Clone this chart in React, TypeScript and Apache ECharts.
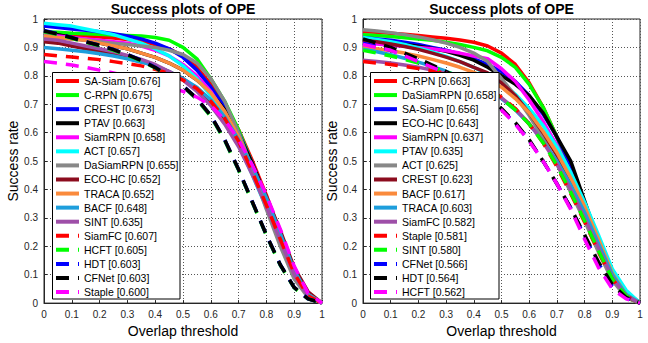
import React, { useEffect, useRef } from "react";
import * as echarts from "echarts";

const thresholds = [0, 0.05, 0.1, 0.15, 0.2, 0.25, 0.3, 0.35, 0.4, 0.45, 0.5, 0.55, 0.6, 0.65, 0.7, 0.75, 0.8, 0.85, 0.9, 0.95, 1];
const xTicks = ["0", "0.1", "0.2", "0.3", "0.4", "0.5", "0.6", "0.7", "0.8", "0.9", "1"];

// Left plot
const leftNames = ["SA-Siam", "C-RPN", "CREST", "PTAV", "SiamRPN", "ACT", "DaSiamRPN", "ECO-HC", "TRACA", "BACF", "SINT", "SiamFC", "HCFT", "HDT", "CFNet", "Staple"];
const leftScores = ["0.676", "0.675", "0.673", "0.663", "0.658", "0.657", "0.655", "0.652", "0.652", "0.648", "0.635", "0.607", "0.605", "0.603", "0.603", "0.600"];
const L_SASiam = [0.95, 0.95, 0.945, 0.94, 0.937, 0.933, 0.928, 0.92, 0.91, 0.895, 0.87, 0.83, 0.77, 0.70, 0.61, 0.50, 0.38, 0.245, 0.115, 0.03, 0];
const L_CRPN = [0.955, 0.953, 0.95, 0.948, 0.946, 0.944, 0.942, 0.94, 0.935, 0.925, 0.9, 0.86, 0.79, 0.71, 0.61, 0.49, 0.36, 0.225, 0.1, 0.025, 0];
const L_CREST = [0.975, 0.97, 0.965, 0.96, 0.955, 0.948, 0.94, 0.93, 0.915, 0.895, 0.865, 0.82, 0.76, 0.69, 0.60, 0.49, 0.37, 0.24, 0.11, 0.03, 0];
const L_PTAV = [0.95, 0.945, 0.935, 0.925, 0.915, 0.905, 0.895, 0.88, 0.865, 0.845, 0.82, 0.785, 0.74, 0.68, 0.595, 0.49, 0.37, 0.24, 0.11, 0.03, 0];
const L_SiamRPN = [0.945, 0.94, 0.935, 0.93, 0.925, 0.92, 0.915, 0.905, 0.89, 0.87, 0.84, 0.8, 0.745, 0.67, 0.575, 0.465, 0.345, 0.22, 0.1, 0.025, 0];
const L_ACT = [0.985, 0.98, 0.975, 0.965, 0.955, 0.945, 0.93, 0.915, 0.895, 0.87, 0.835, 0.79, 0.73, 0.655, 0.56, 0.45, 0.335, 0.215, 0.1, 0.025, 0];
const L_DaSiamRPN = [0.94, 0.935, 0.93, 0.925, 0.92, 0.915, 0.91, 0.905, 0.9, 0.89, 0.875, 0.845, 0.79, 0.71, 0.6, 0.47, 0.33, 0.2, 0.085, 0.02, 0];
const L_ECOHC = [0.92, 0.915, 0.905, 0.895, 0.885, 0.875, 0.865, 0.85, 0.835, 0.815, 0.79, 0.755, 0.71, 0.65, 0.575, 0.48, 0.375, 0.255, 0.125, 0.04, 0];
const L_TRACA = [0.94, 0.935, 0.93, 0.925, 0.915, 0.905, 0.895, 0.88, 0.865, 0.845, 0.82, 0.785, 0.74, 0.675, 0.585, 0.475, 0.355, 0.23, 0.105, 0.03, 0];
const L_BACF = [0.9, 0.895, 0.89, 0.885, 0.878, 0.87, 0.86, 0.848, 0.835, 0.815, 0.79, 0.76, 0.715, 0.655, 0.575, 0.48, 0.37, 0.245, 0.115, 0.03, 0];
const L_SINT = [0.93, 0.925, 0.915, 0.905, 0.895, 0.885, 0.872, 0.858, 0.84, 0.815, 0.785, 0.745, 0.695, 0.63, 0.55, 0.45, 0.34, 0.22, 0.1, 0.025, 0];
const L_SiamFC = [0.875, 0.87, 0.866, 0.862, 0.857, 0.85, 0.843, 0.835, 0.823, 0.808, 0.785, 0.755, 0.71, 0.65, 0.57, 0.46, 0.345, 0.225, 0.105, 0.025, 0];
const L_HCFT = [0.955, 0.945, 0.932, 0.918, 0.905, 0.89, 0.872, 0.852, 0.828, 0.798, 0.762, 0.717, 0.657, 0.572, 0.468, 0.353, 0.238, 0.133, 0.054, 0.015, 0];
const L_HDT = [0.96, 0.948, 0.935, 0.92, 0.908, 0.893, 0.875, 0.855, 0.83, 0.8, 0.765, 0.72, 0.66, 0.575, 0.47, 0.355, 0.24, 0.135, 0.055, 0.015, 0];
const L_CFNet = [0.958, 0.947, 0.934, 0.92, 0.907, 0.892, 0.874, 0.854, 0.829, 0.8, 0.764, 0.72, 0.66, 0.575, 0.47, 0.355, 0.24, 0.135, 0.055, 0.015, 0];
const L_Staple = [0.85, 0.845, 0.838, 0.83, 0.82, 0.81, 0.798, 0.785, 0.77, 0.76, 0.745, 0.725, 0.695, 0.645, 0.575, 0.485, 0.38, 0.26, 0.13, 0.035, 0];
const leftCurves = [L_SASiam, L_CRPN, L_CREST, L_PTAV, L_SiamRPN, L_ACT, L_DaSiamRPN, L_ECOHC, L_TRACA, L_BACF, L_SINT, L_SiamFC, L_HCFT, L_HDT, L_CFNet, L_Staple];

// Right plot
const rightNames = ["C-RPN", "DaSiamRPN", "SA-Siam", "ECO-HC", "SiamRPN", "PTAV", "ACT", "CREST", "BACF", "TRACA", "SiamFC", "Staple", "SINT", "CFNet", "HDT", "HCFT"];
const rightScores = ["0.663", "0.658", "0.656", "0.643", "0.637", "0.635", "0.625", "0.623", "0.617", "0.603", "0.582", "0.581", "0.580", "0.566", "0.564", "0.562"];
const R_CRPN = [0.955, 0.953, 0.95, 0.946, 0.942, 0.937, 0.932, 0.926, 0.918, 0.905, 0.88, 0.84, 0.775, 0.69, 0.585, 0.455, 0.33, 0.205, 0.09, 0.02, 0];
const R_DaSiamRPN = [0.945, 0.942, 0.938, 0.934, 0.93, 0.925, 0.918, 0.91, 0.9, 0.888, 0.865, 0.83, 0.77, 0.69, 0.585, 0.465, 0.34, 0.21, 0.09, 0.02, 0];
const R_SASiam = [0.935, 0.93, 0.925, 0.918, 0.91, 0.9, 0.89, 0.877, 0.86, 0.84, 0.815, 0.78, 0.73, 0.665, 0.585, 0.485, 0.355, 0.225, 0.1, 0.03, 0];
const R_ECOHC = [0.925, 0.92, 0.915, 0.91, 0.904, 0.896, 0.886, 0.872, 0.855, 0.83, 0.8, 0.77, 0.73, 0.67, 0.585, 0.5, 0.36, 0.22, 0.115, 0.04, 0];
const R_SiamRPN = [0.915, 0.912, 0.908, 0.904, 0.9, 0.895, 0.888, 0.88, 0.87, 0.86, 0.825, 0.78, 0.715, 0.64, 0.555, 0.455, 0.34, 0.22, 0.1, 0.025, 0];
const R_PTAV = [0.935, 0.928, 0.92, 0.91, 0.898, 0.884, 0.868, 0.85, 0.83, 0.805, 0.775, 0.735, 0.685, 0.625, 0.55, 0.46, 0.355, 0.24, 0.12, 0.045, 0];
const R_ACT = [0.962, 0.958, 0.952, 0.945, 0.937, 0.927, 0.915, 0.9, 0.88, 0.85, 0.79, 0.73, 0.66, 0.58, 0.49, 0.39, 0.29, 0.18, 0.08, 0.02, 0];
const R_CREST = [0.925, 0.92, 0.912, 0.903, 0.893, 0.88, 0.866, 0.85, 0.83, 0.81, 0.775, 0.73, 0.67, 0.6, 0.52, 0.43, 0.33, 0.215, 0.1, 0.025, 0];
const R_BACF = [0.9, 0.895, 0.888, 0.88, 0.87, 0.858, 0.845, 0.83, 0.812, 0.79, 0.76, 0.72, 0.67, 0.605, 0.53, 0.44, 0.34, 0.225, 0.105, 0.03, 0];
const R_TRACA = [0.894, 0.885, 0.874, 0.862, 0.848, 0.833, 0.816, 0.797, 0.775, 0.75, 0.72, 0.68, 0.63, 0.57, 0.5, 0.415, 0.32, 0.21, 0.1, 0.03, 0];
const R_SiamFC = [0.855, 0.85, 0.845, 0.838, 0.83, 0.82, 0.808, 0.793, 0.775, 0.752, 0.722, 0.683, 0.632, 0.567, 0.49, 0.4, 0.3, 0.195, 0.09, 0.025, 0];
const R_Staple = [0.85, 0.845, 0.84, 0.833, 0.826, 0.818, 0.808, 0.795, 0.778, 0.755, 0.725, 0.685, 0.63, 0.565, 0.48, 0.385, 0.285, 0.18, 0.085, 0.025, 0];
const R_SINT = [0.89, 0.88, 0.87, 0.858, 0.845, 0.83, 0.815, 0.797, 0.775, 0.75, 0.72, 0.68, 0.63, 0.565, 0.485, 0.39, 0.29, 0.185, 0.085, 0.025, 0];
const R_CFNet = [0.915, 0.903, 0.89, 0.872, 0.852, 0.832, 0.81, 0.786, 0.757, 0.722, 0.682, 0.632, 0.572, 0.5, 0.42, 0.335, 0.235, 0.14, 0.06, 0.018, 0];
const R_HDT = [0.93, 0.915, 0.9, 0.88, 0.86, 0.838, 0.815, 0.79, 0.76, 0.725, 0.685, 0.635, 0.575, 0.5, 0.42, 0.335, 0.24, 0.145, 0.065, 0.02, 0];
const R_HCFT = [0.91, 0.9, 0.89, 0.87, 0.85, 0.83, 0.81, 0.785, 0.755, 0.72, 0.68, 0.63, 0.57, 0.5, 0.42, 0.33, 0.225, 0.125, 0.05, 0.015, 0];
const rightCurves = [R_CRPN, R_DaSiamRPN, R_SASiam, R_ECOHC, R_SiamRPN, R_PTAV, R_ACT, R_CREST, R_BACF, R_TRACA, R_SiamFC, R_Staple, R_SINT, R_CFNet, R_HDT, R_HCFT];

// Styles by rank (same in both panels)
const rankStyles = [
  { color: "#ff0000", dash: false },
  { color: "#00ff00", dash: false },
  { color: "#0000ff", dash: false },
  { color: "#000000", dash: false },
  { color: "#ff00ff", dash: false },
  { color: "#00ffff", dash: false },
  { color: "#888888", dash: false },
  { color: "#8c0c1e", dash: false },
  { color: "#fa8a3c", dash: false },
  { color: "#1e9edc", dash: false },
  { color: "#9e4fa8", dash: false },
  { color: "#ff0000", dash: true },
  { color: "#00ff00", dash: true },
  { color: "#0000ff", dash: true },
  { color: "#000000", dash: true },
  { color: "#ff00ff", dash: true },
];

const FONT = "'Liberation Sans', Arial, Helvetica, sans-serif";

function buildSeries(curves: number[][], names: string[], scores: string[], gi: number) {
  return curves.map((vals, i) => {
    const st = rankStyles[i];
    return {
      type: "line",
      name: `${names[i]} [${scores[i]}]`,
      xAxisIndex: gi,
      yAxisIndex: gi,
      data: thresholds.map((t, k) => [t, vals[k]]),
      symbol: "none",
      silent: true,
      color: st.color,
      itemStyle: { color: st.color },
      lineStyle: { color: st.color, width: 3.5, type: st.dash ? [13, 9] : "solid" },
      z: 3,
    };
  });
}

function axisCommon(gi: number) {
  return {
    gridIndex: gi,
    type: "value",
    min: 0,
    max: 1,
    interval: 0.1,
    axisLine: { show: true, lineStyle: { color: "#262626", width: 1 } },
    axisTick: { show: true, inside: true, length: 3, lineStyle: { color: "#262626" } },
    axisLabel: { fontSize: 10, color: "#262626", fontFamily: FONT, margin: 6 },
    splitLine: { show: true, lineStyle: { color: "#555", type: [1, 2], width: 1 } },
    nameLocation: "middle",
    nameTextStyle: { fontSize: 14, color: "#000", fontFamily: FONT },
  };
}

const grids = [
  { left: 44, top: 19, width: 278, height: 287 },
  { left: 363, top: 19, width: 277, height: 287 },
];

export default function App() {
  const ref = useRef<HTMLDivElement>(null);
  useEffect(() => {
    if (!ref.current) return;
    const chart = echarts.init(ref.current, undefined, { renderer: "svg" });
    const leftLabels = leftNames.map((n, i) => `${n} [${leftScores[i]}]`);
    const rightLabels = rightNames.map((n, i) => `${n} [${rightScores[i]}]`);
    const legendCommon = {
      orient: "vertical",
      padding: 0,
      itemWidth: 23,
      itemHeight: 14,
      itemGap: 0.07,
      selectedMode: false,
      lineStyle: { width: 4 },
      itemStyle: { opacity: 0 },
      textStyle: { fontSize: 10.5, color: "#000", fontFamily: FONT, lineHeight: 14 },
      z: 20,
    };
    const option: any = {
      animation: false,
      backgroundColor: "#fff",
      textStyle: { fontFamily: FONT },
      title: [
        { text: "Success plots of OPE", left: 183, top: 2, textAlign: "center", padding: 0, textStyle: { fontSize: 14, fontWeight: "bold", color: "#000", fontFamily: FONT } },
        { text: "Success plots of OPE", left: 501.5, top: 2, textAlign: "center", padding: 0, textStyle: { fontSize: 14, fontWeight: "bold", color: "#000", fontFamily: FONT } },
      ],
      grid: grids.map((g) => ({ ...g, show: true, borderColor: "#262626", borderWidth: 1, backgroundColor: "transparent" })),
      xAxis: [0, 1].map((gi) => ({
        ...axisCommon(gi),
        name: "Overlap threshold",
        nameGap: 18,
        axisLabel: { ...axisCommon(gi).axisLabel, formatter: (v: number) => xTicks[Math.round(v * 10)] },
      })),
      yAxis: [0, 1].map((gi) => ({
        ...axisCommon(gi),
        name: "Success rate",
        nameGap: 13,
        axisLabel: { ...axisCommon(gi).axisLabel, formatter: (v: number) => xTicks[Math.round(v * 10)] },
      })),
      legend: [
        { ...legendCommon, left: 54, top: 74, data: leftLabels },
        { ...legendCommon, left: 372, top: 74, data: rightLabels },
      ],
      graphic: [
        { type: "rect", z: 10, shape: { x: 52.5, y: 72.5, width: 127.5, height: 226.5 }, style: { fill: "#fff", stroke: "#000", lineWidth: 1 } },
        { type: "rect", z: 10, shape: { x: 370.5, y: 72.5, width: 128.5, height: 226.5 }, style: { fill: "#fff", stroke: "#000", lineWidth: 1 } },
      ],
      series: [
        ...buildSeries(leftCurves, leftNames, leftScores, 0),
        ...buildSeries(rightCurves, rightNames, rightScores, 1),
      ],
    };
    chart.setOption(option);
    return () => chart.dispose();
  }, []);
  return <div ref={ref} style={{ width: 648, height: 343, position: "absolute", left: 0, top: 0 }} />;
}
